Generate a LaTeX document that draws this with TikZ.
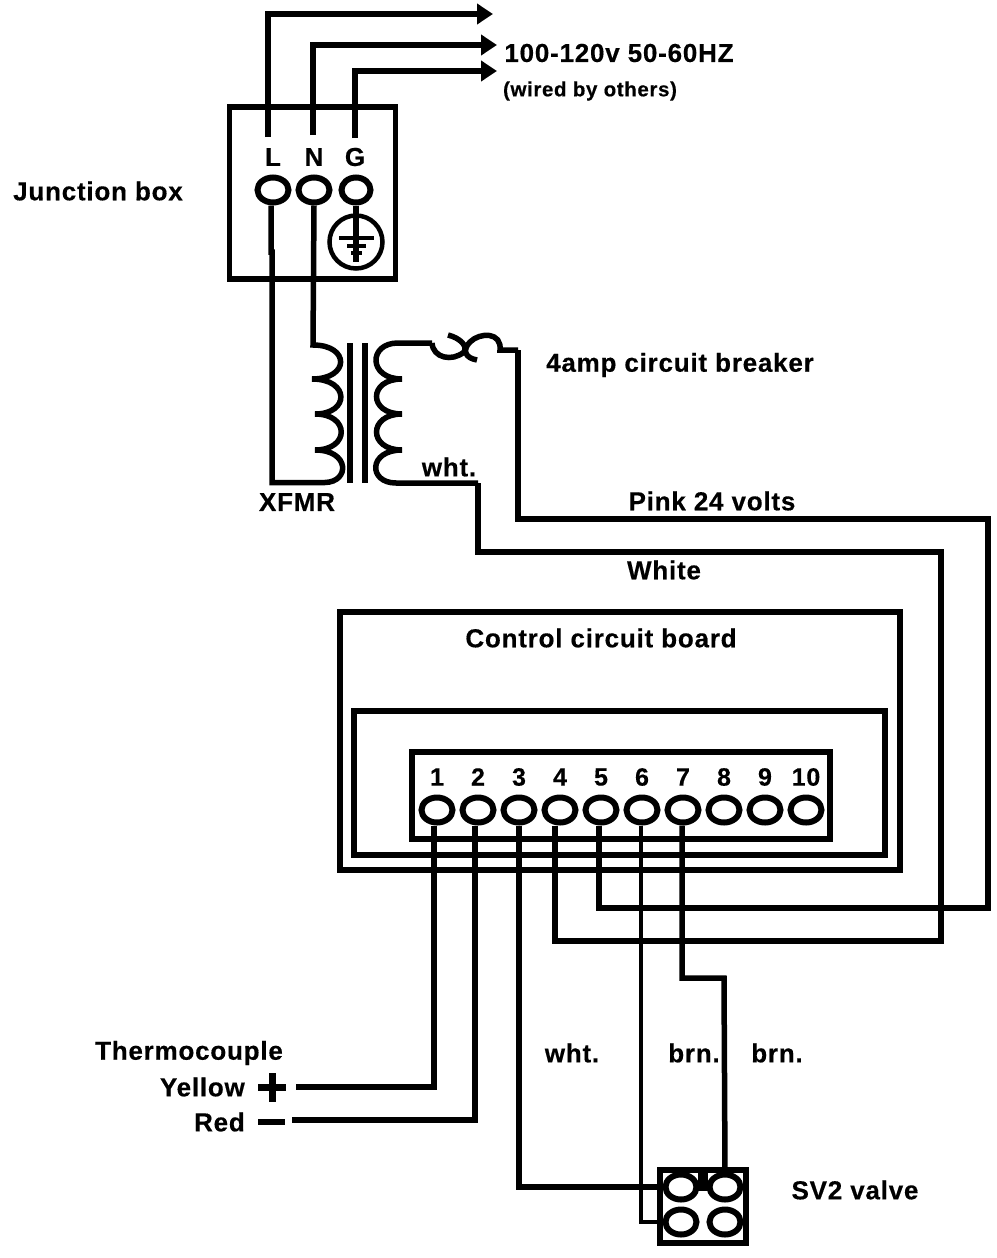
\documentclass[tikz,border=0pt]{standalone}
\usepackage{fontspec}
\setmainfont[LetterSpace=3,BoldFeatures={FakeBold=0.4}]{Liberation Sans}
\usetikzlibrary{shapes.geometric,arrows.meta}
\tikzset{
  wire/.style={line width=5.5pt,line join=miter},
  thinwire/.style={line width=4.5pt,line join=miter},
  feed/.style={wire,-{Triangle[length=16pt,width=20pt]}},
  box/.style={draw,line width=5.5pt,rectangle,inner sep=0pt},
  term/.style={draw,ellipse,line width=6pt,minimum width=31pt,minimum height=25pt,inner sep=0pt},
  lab/.style={font=\fontsize{26}{26}\selectfont\bfseries,inner sep=0pt},
  small/.style={font=\fontsize{20.5}{20.5}\selectfont\bfseries,inner sep=0pt},
  num/.style={font=\fontsize{25}{25}\selectfont\bfseries,inner sep=0pt},
}
\begin{document}
\begin{tikzpicture}[x=1pt,y=-1pt]
\useasboundingbox (0,0) rectangle (996,1258);
% junction box
\node[box,minimum width=166pt,minimum height=172pt] (jbox) at (312.5,193) {};
\node[term] (jl) at (273,190) {};
\node[term] (jn) at (314,190) {};
\node[term,minimum width=29pt] (jg) at (356,190) {};
\coordinate (ltop) at (268,137);
\coordinate (ntop) at (313,135);
\coordinate (gtop) at (355,138);
\coordinate (o1) at (493,14);
\coordinate (o2) at (497,45);
\coordinate (o3) at (497,71);
\draw[feed] (ltop) |- (o1);
\draw[feed] (ntop) |- (o2);
\draw[feed,line width=6.5pt] (gtop) |- (o3);
\node[lab] (tl) at (273,157) {L};
\node[lab] (tn) at (314,157) {N};
\node[lab] (tg) at (355,157) {G};
% ground
\node[draw,circle,line width=4.5pt,minimum size=53pt,inner sep=0pt] (gnd) at (356,242) {};
\coordinate (gtip) at (356,262);
\draw[wire] (jg.south) -- (gtip);
\draw[line width=3.5pt] (339,238) -- (374,238) (347,246) -- (366,246);
\draw[line width=4.5pt] (351,253) -- (362,253);
% transformer
\coordinate (cl1) at (313,345);
\coordinate (cl2) at (272,482.5);
\coordinate (cr1) at (398,343);
\coordinate (cr2) at (478,483);
\draw[wire] ([xshift=-2pt]jl.south) -- (271,252) -- (272,252) -- (cl2) -- (325,482.5)
  .. controls (350,482) and (350,450) .. (315,450)
  .. controls (350,450) and (350,414) .. (315,414)
  .. controls (350,414) and (350,379) .. (312,379)
  .. controls (350,379) and (350,345) .. (cl1)
  -- (jn.south);
\draw[line width=5.5pt] (350,343) -- (350,483);
\draw[line width=6.5pt] (365,343) -- (365,483);
\draw[wire] (cr2) -- (396,483)
  .. controls (368,483) and (368,450) .. (402,450)
  .. controls (368,450) and (368,414) .. (402,414)
  .. controls (368,414) and (368,379) .. (402,379)
  .. controls (368,379) and (368,343) .. (cr1) -- (432,343);
% breaker
\coordinate (b1) at (432,343);
\coordinate (btipa) at (448,335);
\coordinate (btipb) at (477,360);
\coordinate (b2) at (518,350);
\draw[wire] (b1) .. controls (433,358) and (452,362) .. (464,352) .. controls (468,346) and (460,338) .. (btipa);
\draw[wire] (btipb) .. controls (465,358) and (462,350) .. (470,342) .. controls (480,332) and (502,332) .. (500,350) -- (b2);
% panel
\node[box,line width=6pt,minimum width=560pt,minimum height=258pt] (board) at (620,741) {};
\node[box,minimum width=531pt,minimum height=144pt] (inner) at (619.5,783) {};
\node[box,minimum width=418pt,minimum height=87pt] (strip) at (621,795.5) {};
\foreach \i/\x in {1/437,2/478,3/519,4/560,5/601,6/642,7/683,8/724,9/765,10/806}{
  \node[term] (t\i) at (\x,810) {};
  \node[num] (n\i) at (\x,777) {\i};
}
% valve
\node[box,line width=6pt,minimum width=86pt,minimum height=73pt] (valve) at (702.5,1206.5) {};
\node[term] (v1) at (681,1187) {};
\node[term] (v2) at (725,1187) {};
\node[term] (v3) at (681,1222) {};
\node[term] (v4) at (725,1222) {};
\draw[line width=10pt] (703,1172) -- (703,1191);
% wiring
\coordinate (w1) at (296,1087);
\coordinate (w2) at (292,1120);
\draw[wire] ([xshift=-3pt]t1.south) |- (w1);
\draw[wire] ([xshift=-3pt]t2.south) |- (w2);
\draw[wire] (t3.south) |- (v1.west);
\draw[wire] (cr2) -- (478,552) -- (941,552) -- (941,941) -- (555,941) -- ([xshift=-5pt]t4.south);
\draw[wire] (b2) -- (518,519) -- (988,519) -- (988,908) -- (599,908) -- ([xshift=-2pt]t5.south);
\draw[thinwire] ([xshift=-1pt]t6.south) |- (v3.west);
\draw[wire] ([xshift=-1pt]t7.south) -- (682,978) -- (724,978) -- (v2.north);
% thermocouple signs
\draw[line width=7pt] (258,1087) -- (286,1087) (272,1073) -- (272,1102);
\draw[wire] (258,1122) -- (285,1122);
% labels
\node[lab] (a1) at (98,191) {Junction box};
\node[lab] (a2) at (619,53) {100-120v 50-60HZ};
\node[small] (a3) at (590,91) {(wired by others)};
\node[lab] (a4) at (680,365) {4amp circuit breaker};
\node[lab] (a5) at (712,501) {Pink 24 volts};
\node[lab] (a6) at (664,570) {White};
\node[lab] (a7) at (449,467) {wht.};
\node[lab] (a8) at (297,502) {XFMR};
\node[lab] (a9) at (601,638) {Control circuit board};
\node[lab] (a10) at (189,1053) {Thermocouple};
\node[lab,anchor=east] (a11) at (245,1087) {Yellow};
\node[lab,anchor=east] (a12) at (245,1122) {Red};
\node[lab] (a13) at (572,1053) {wht.};
\node[lab] (a14) at (694,1053) {brn.};
\node[lab] (a15) at (777,1053) {brn.};
\node[lab] (a16) at (855,1190) {SV2 valve};
\end{tikzpicture}
\end{document}
